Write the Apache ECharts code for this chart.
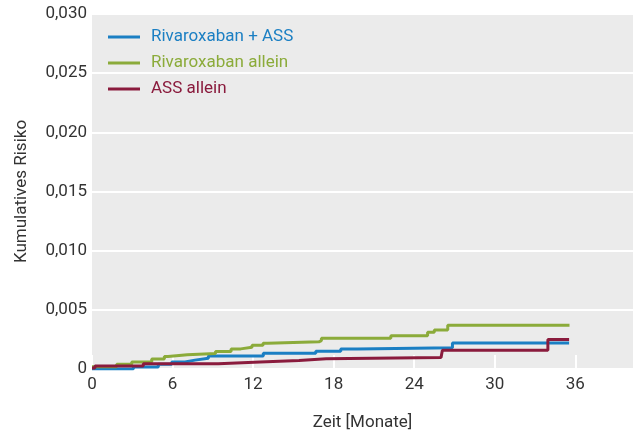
<!DOCTYPE html>
<html>
<head>
<meta charset="utf-8">
<script src="https://cdn.jsdelivr.net/npm/echarts@6/dist/echarts.min.js"></script>
<style>html,body{margin:0;padding:0;background:#fff}#c{width:637px;height:436px}</style>
</head>
<body>
<div id="c"></div>
<script>
var seriesNames = ['Rivaroxaban + ASS', 'Rivaroxaban allein', 'ASS allein'];
var xTicks = [0, 6, 12, 18, 24, 30, 36];
var yTicks = [0, 0.005, 0.010, 0.015, 0.020, 0.025, 0.030];

var monthsBlue = [0, 3.08, 4.94, 5.94, 6.93, 7.67, 8.67, 12.76, 16.67, 18.53, 19.77, 26.85, 35.54];
var riskBlue   = [0, 0.00017, 0.0004, 0.0006, 0.00075, 0.0009, 0.0011, 0.00133, 0.0015, 0.0017, 0.0018, 0.0022, 0.0022];

var monthsGreen = [0, 1.84, 2.96, 4.45, 5.39, 5.66, 7.1, 9.2, 10.36, 11.08, 11.92, 12.74, 13.1, 16.9, 17.09, 22.26, 25.0, 25.5, 26.5, 35.57];
var riskGreen   = [0.0002, 0.0004, 0.0006, 0.00085, 0.00105, 0.0012, 0.0013, 0.00147, 0.0017, 0.00183, 0.002, 0.00217, 0.0023, 0.0024, 0.0026, 0.0028, 0.0031, 0.0033, 0.0037, 0.0037];

var monthsRed = [0, 0.22, 3.82, 9.41, 12.52, 15.42, 17.44, 26.0, 26.1, 33.96, 35.54];
var riskRed   = [0.00008, 0.00025, 0.00045, 0.0006, 0.00072, 0.00086, 0.00097, 0.0011, 0.00158, 0.0025, 0.0025];

var colors = ['#1b7fc3', '#8bab3a', '#8a1b3d'];

function pairs(xs, ys) { return xs.map(function (x, i) { return [x, ys[i]]; }); }
var FONT = 'Roboto';

var chart = echarts.init(document.getElementById('c'), null, {renderer: 'canvas'});
chart.setOption({
  animation: false,
  textStyle: {fontFamily: FONT},
  grid: {left: 92, right: 4, top: 14, bottom: 62, show: true, backgroundColor: '#ebebeb', borderWidth: 0},
  legend: {
    orient: 'vertical', left: 103, top: 22,
    icon: 'rect', itemWidth: 32, itemHeight: 3, itemGap: 6,
    textStyle: {fontSize: 17, lineHeight: 20, fontFamily: FONT, padding: [0, 0, 0, 6]},
    data: seriesNames.map(function (n, i) { return {name: n, textStyle: {color: colors[i]}}; })
  },
  xAxis: {
    type: 'value', min: 0, max: 40.3, interval: 6,
    name: 'Zeit [Monate]', nameLocation: 'middle', nameGap: 45,
    nameTextStyle: {fontSize: 17, color: '#333', fontFamily: FONT},
    axisLine: {show: false},
    axisTick: {show: true, inside: true, length: 14, lineStyle: {color: '#fff', width: 2}, customValues: xTicks},
    axisLabel: {fontSize: 17, color: '#333', margin: 7, fontFamily: FONT, customValues: xTicks},
    splitLine: {show: false}
  },
  yAxis: {
    type: 'value', min: 0, max: 0.03, interval: 0.005,
    name: 'Kumulatives Risiko', nameLocation: 'middle', nameGap: 62,
    nameTextStyle: {fontSize: 17, color: '#333', fontFamily: FONT},
    axisLine: {show: false}, axisTick: {show: false},
    axisLabel: {fontSize: 17, color: '#333', margin: 5, fontFamily: FONT,
      formatter: function (v) { return v === 0 ? '0' : v.toFixed(3).replace('.', ','); }},
    splitLine: {show: true, lineStyle: {color: '#fff', width: 2}}
  },
  series: [
    {name: seriesNames[0], type: 'line', step: 'end', symbol: 'none', data: pairs(monthsBlue, riskBlue), lineStyle: {width: 3, color: colors[0]}, itemStyle: {color: colors[0]}},
    {name: seriesNames[1], type: 'line', step: 'end', symbol: 'none', data: pairs(monthsGreen, riskGreen), lineStyle: {width: 3, color: colors[1]}, itemStyle: {color: colors[1]}},
    {name: seriesNames[2], type: 'line', step: 'end', symbol: 'none', data: pairs(monthsRed, riskRed), lineStyle: {width: 3, color: colors[2]}, itemStyle: {color: colors[2]}}
  ]
});
</script>
</body>
</html>
